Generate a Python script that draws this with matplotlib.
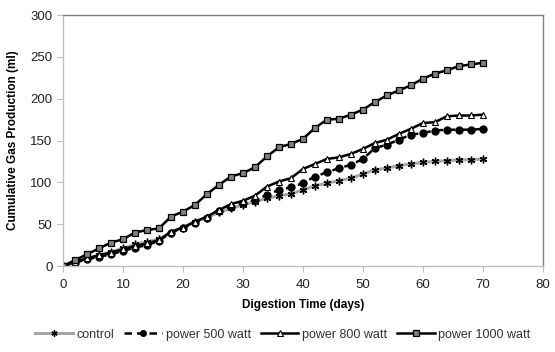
import numpy as np
import matplotlib
matplotlib.use("Agg")
import matplotlib.pyplot as plt

# digestion days (every 2 days)
days = list(range(0, 72, 2))

control = [0, 5, 9, 13, 17, 21, 26, 29, 32, 40, 46, 53, 58, 64, 69, 73, 77, 81,
           84, 86, 91, 96, 99, 102, 105, 110, 115, 117, 120, 122, 124, 125, 126, 127, 127, 128]
power_500 = [0, 4, 8, 11, 14, 18, 22, 25, 30, 40, 45, 52, 58, 66, 71, 75, 79, 85,
             91, 94, 99, 107, 112, 117, 121, 128, 141, 145, 151, 157, 159, 162, 163, 163, 163, 164]
power_800 = [0, 5, 9, 13, 16, 20, 24, 27, 31, 41, 46, 53, 59, 67, 74, 78, 84, 95,
             101, 105, 116, 122, 128, 130, 134, 140, 147, 151, 158, 164, 171, 172, 179, 180, 180, 181]
power_1000 = [0, 7, 14, 21, 28, 32, 40, 43, 45, 59, 65, 73, 86, 97, 107, 111, 118, 131,
              142, 146, 152, 165, 175, 176, 181, 187, 196, 204, 210, 216, 224, 230, 234, 239, 241, 243]

x_ticks = [0, 10, 20, 30, 40, 50, 60, 70, 80]
y_ticks = [0, 50, 100, 150, 200, 250, 300]

plt.rcParams['font.family'] = ['Liberation Sans', 'DejaVu Sans']

fig = plt.figure(figsize=(5.55, 3.52), dpi=100)
ax = fig.add_axes([0.1135, 0.2443, 0.8645, 0.7127])

ax.plot(days, control, color='#a6a6a6', lw=2.2, marker=(6, 2, 0), ms=5.5,
        mec='black', mfc='black', mew=1.0, label='control')
ax.plot(days, power_500, color='black', lw=1.8, ls=(0, (3, 2)), marker='o', ms=5,
        mec='black', mfc='black', label='power 500 watt')
ax.plot(days, power_800, color='black', lw=1.8, marker='^', ms=4.8,
        mec='black', mfc='white', mew=0.8, label='power 800 watt')
ax.plot(days, power_1000, color='black', lw=1.8, marker='s', ms=5,
        mec='black', mfc='#808080', mew=0.9, label='power 1000 watt')

ax.set_xlim(0, 80)
ax.set_ylim(0, 300)
ax.set_xticks(x_ticks)
ax.set_yticks(y_ticks)
ax.tick_params(axis='both', direction='out', length=4, color='#bfbfbf',
               labelsize=9.5, labelcolor='#222222')
ax.tick_params(axis='x', pad=5)

for s in ['left', 'bottom']:
    ax.spines[s].set_color('#bfbfbf')
for s in ['top', 'right']:
    ax.spines[s].set_color('#808080')
for s in ax.spines.values():
    s.set_linewidth(1.0)

ax.set_xlabel('Digestion Time (days)', fontsize=8.5, fontweight='bold', labelpad=6)
ax.set_ylabel('Cumulative Gas Production (ml)', fontsize=8.5, fontweight='bold', labelpad=8)

fig.legend(loc='lower center', bbox_to_anchor=(0.51, 0.0), ncol=4, frameon=False,
           fontsize=9, handlelength=3.0, handletextpad=0.3, columnspacing=0.8,
           markerscale=0.8, labelcolor='#333333')

fig.savefig('out.png', dpi=100)
